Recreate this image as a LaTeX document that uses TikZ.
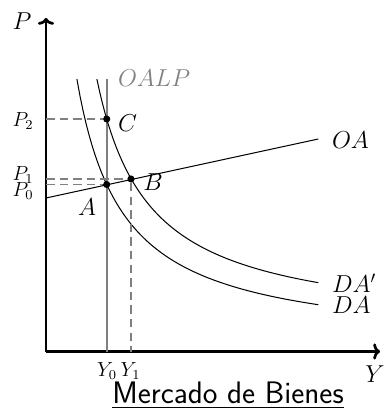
\documentclass[tikz,border=0pt]{standalone}
\usepackage{amsmath,amssymb}
\usepackage{tikz}
\usepackage{xcolor}
\usetikzlibrary{arrows.meta}

\tikzset{
  axisline/.style={line width=1.6pt,-{To[length=4pt,width=9.5pt]}},
  lplong/.style={gray,line width=1.1pt},
  guide/.style={gray,line width=1pt,dash pattern=on 5pt off 3pt},
  curve/.style={black,line width=0.6pt},
  dot/.style={circle,fill=black,inner sep=0pt,minimum size=4.2pt},
}

\begin{document}
\begin{tikzpicture}[x=0.5882pt,y=0.5882pt]
\useasboundingbox (-46,-56.5) rectangle (343,351.5);
\coordinate (O) at (0,0);
\coordinate (Ptip) at (0,333.5);
\coordinate (Ytip) at (334,0);
\draw[axisline] (O) -- (Ptip);
\draw[axisline] (O) -- (Ytip);
\node[anchor=base] (Plabel) at (-24,321.5) {\Large $P$};
\node[anchor=base] (Ylabel) at (329,-30.5) {\Large $Y$};
\coordinate (Ltop) at (60.7,272.5);
\coordinate (Lbot) at (60.7,0);
\draw[lplong] (Ltop) -- (Lbot);
\node[gray,anchor=base west] (OALP) at (66,264.5) {\Large $OALP$};
\coordinate (OA0) at (0,153.5);
\coordinate (OA1) at (272.3,212.5);
\draw[curve] (OA0) -- (OA1);
\node[anchor=base west] (OAlabel) at (280,203.5) {\Large $OA$};
\draw[curve] plot[domain=30.9:272.3,samples=80] (\x,{3.6+12425/(\x+15.32)});
\node[anchor=base west] (DAlabel) at (280,38) {\Large $DA$};
\draw[curve] plot[domain=50.9:272.3,samples=80] (\x,{20.9+13113/(\x+1.26)});
\node[anchor=base west] (DAplabel) at (280,59) {\Large $DA'$};
\node[dot] (A) at (60.7,167) {};
\node[dot] (B) at (85,172.5) {};
\node[dot] (C) at (60.7,232.5) {};
\coordinate (PA) at (0,167);
\coordinate (PB) at (0,172.5);
\coordinate (PC) at (0,232.5);
\coordinate (YB) at (85,0);
\draw[guide] (PA) -- (A);
\draw[guide] (PB) -- (B);
\draw[guide] (PC) -- (C);
\draw[guide] (B) -- (YB);
\node[anchor=base] (Alabel) at (41,135.5) {\Large $A$};
\node[anchor=base] (Blabel) at (107,160.8) {\Large $B$};
\node[anchor=base] (Clabel) at (81.5,220.5) {\Large $C$};
\node[anchor=base] (P0label) at (-23,154.8) {\large $P_0$};
\node[anchor=base] (P1label) at (-23,171.5) {\large $P_1$};
\node[anchor=base] (P2label) at (-23,224.8) {\large $P_2$};
\node[anchor=base] (Y0label) at (61,-24.5) {\large $Y_0$};
\node[anchor=base] (Y1label) at (84.5,-24.5) {\large $Y_1$};
\node[anchor=base,inner sep=0pt] (title) at (182,-51.5) {\fontsize{18.3pt}{22pt}\selectfont\underline{\textsf{Mercado de Bienes}}};
\end{tikzpicture}
\end{document}
